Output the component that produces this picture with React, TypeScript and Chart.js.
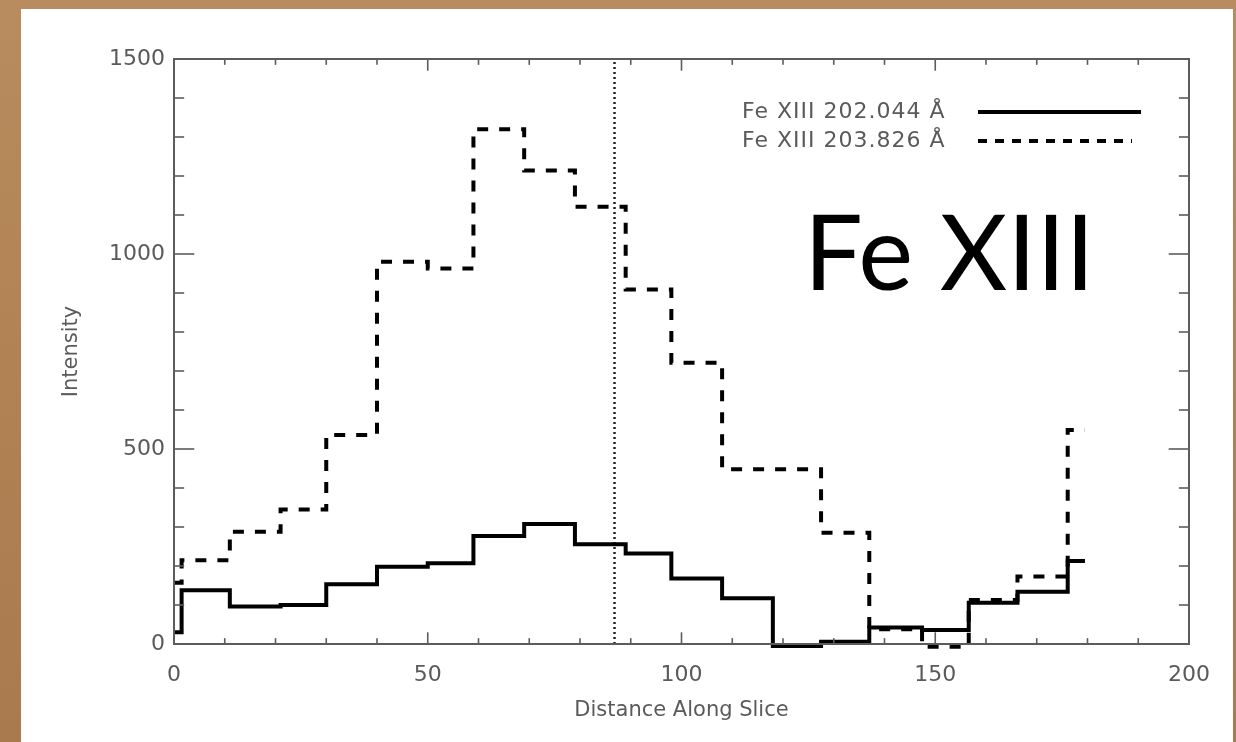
import React, { useEffect, useRef } from "react";
import { Chart, registerables } from "chart.js";

Chart.register(...registerables);

// ---- data ----
const binEdges = [0, 1.5, 11, 21, 30, 40, 50, 59, 69, 79, 89, 98, 108, 118, 127.5, 137, 147.4, 156.6, 166.2, 176.1, 179.5];
const fe202Values = [30, 138, 96, 100, 153, 198, 207, 277, 308, 256, 232, 168, 117, -5, 6, 42, 36, 106, 134, 213];
const fe203Values = [157, 215, 288, 345, 536, 980, 963, 1320, 1214, 1121, 909, 721, 448, 448, 285, 38, -7, 113, 173, 549];
const seriesLabels = ["Fe XIII 202.044 \u00C5", "Fe XIII 203.826 \u00C5"];
const xTickValues = [0, 50, 100, 150, 200];
const yTickValues = [0, 500, 1000, 1500];
const xMinorStep = 10;
const yMinorStep = 100;
const markerX = 86.8;
const xTitle = "Distance Along Slice";
const yTitle = "Intensity";
const bigLabel = "Fe XIII";

const AXIS = "#5c5c5c";
const TEXT = "#5a5a5a";
const TICK_FONT = { family: "'DejaVu Sans', sans-serif", size: 22 };

function toSteps(vals: number[]) {
  const pts = vals.map((v, i) => ({ x: binEdges[i], y: v }));
  pts.push({ x: binEdges[binEdges.length - 1], y: vals[vals.length - 1] });
  return pts;
}

export default function App() {
  const ref = useRef<HTMLCanvasElement>(null);

  useEffect(() => {
    const canvas = ref.current!;

    const framePlugin = {
      id: "idlFrame",
      afterDatasetsDraw(chart: any) {
        const { ctx, chartArea: a, scales } = chart;
        const xs = scales.x, ys = scales.y;
        const w = a.right - a.left, h = a.bottom - a.top;
        ctx.save();
        ctx.strokeStyle = AXIS;
        ctx.lineWidth = 2;
        ctx.strokeRect(a.left, a.top, w, h);
        ctx.lineWidth = 1.6;
        const seg = (x1: number, y1: number, x2: number, y2: number) => {
          ctx.beginPath(); ctx.moveTo(x1, y1); ctx.lineTo(x2, y2); ctx.stroke();
        };
        const nx = Math.round((xs.max - xs.min) / xMinorStep);
        for (let i = 0; i <= nx; i++) {
          const v = xs.min + i * xMinorStep;
          const px = xs.getPixelForValue(v);
          const major = xTickValues.includes(v);
          const len = major ? 0.02 * h : 0.01 * h;
          seg(px, a.bottom, px, a.bottom - len);
          seg(px, a.top, px, a.top + len);
        }
        const ny = Math.round((ys.max - ys.min) / yMinorStep);
        for (let i = 0; i <= ny; i++) {
          const v = ys.min + i * yMinorStep;
          const py = ys.getPixelForValue(v);
          const major = yTickValues.includes(v);
          const len = major ? 0.02 * w : 0.01 * w;
          seg(a.left, py, a.left + len, py);
          seg(a.right, py, a.right - len, py);
        }
        ctx.restore();
      },
      afterDraw(chart: any) {
        const { ctx, chartArea: a } = chart;
        ctx.save();
        // legend
        ctx.font = "22px 'DejaVu Sans', sans-serif";
        (ctx as any).letterSpacing = "1px";
        ctx.fillStyle = TEXT;
        ctx.textBaseline = "middle";
        ctx.textAlign = "left";
        const lx = a.left + 568;
        const rows = [a.top + 53, a.top + 82];
        seriesLabels.forEach((t, i) => {
          ctx.fillText(t, lx, rows[i]);
        });
        ctx.strokeStyle = "#000";
        ctx.lineWidth = 4;
        ctx.beginPath(); ctx.moveTo(a.left + 804, rows[0]); ctx.lineTo(a.left + 967, rows[0]); ctx.stroke();
        ctx.setLineDash([9, 8]);
        ctx.beginPath(); ctx.moveTo(a.left + 804, rows[1]); ctx.lineTo(a.left + 958, rows[1]); ctx.stroke();
        ctx.setLineDash([]);
        // big label
        (ctx as any).letterSpacing = "0px";
        ctx.fillStyle = "#000";
        ctx.font = "104px Lato, 'Open Sans', sans-serif";
        ctx.textBaseline = "alphabetic";
        ctx.fillText(bigLabel, a.left + 630, a.top + 231);
        ctx.restore();
      },
    };

    const chart = new Chart(canvas, {
      type: "line",
      data: {
        datasets: [
          {
            label: seriesLabels[0],
            data: toSteps(fe202Values),
            stepped: "before",
            borderColor: "#000",
            borderWidth: 4,
            pointRadius: 0,
            fill: false,
            clip: false as any,
          },
          {
            label: seriesLabels[1],
            data: toSteps(fe203Values),
            stepped: "before",
            borderColor: "#000",
            borderWidth: 4,
            borderDash: [11, 11],
            pointRadius: 0,
            fill: false,
            clip: false as any,
          },
          {
            label: "marker",
            data: [
              { x: markerX, y: 0 },
              { x: markerX, y: 1500 },
            ],
            borderColor: "#222",
            borderWidth: 2.5,
            borderDash: [2, 3],
            pointRadius: 0,
            fill: false,
          },
        ],
      },
      options: {
        responsive: false,
        animation: false,
        devicePixelRatio: 1,
        layout: { padding: { top: 59, right: 47, left: 0, bottom: 0 } },
        plugins: { legend: { display: false }, tooltip: { enabled: false } },
        scales: {
          x: {
            type: "linear",
            min: 0,
            max: 200,
            afterFit: (s: any) => { s.height = 98; },
            afterBuildTicks: (s: any) => { s.ticks = xTickValues.map((v) => ({ value: v })); },
            grid: { display: false, drawTicks: false },
            border: { display: false },
            ticks: { color: TEXT, font: TICK_FONT, padding: 18, maxRotation: 0, callback: (v: any) => String(v) },
            title: {
              display: true,
              text: xTitle,
              color: TEXT,
              font: { family: "'DejaVu Sans', sans-serif", size: 21 },
              padding: { top: 0, bottom: 19 },
            },
          },
          y: {
            type: "linear",
            min: 0,
            max: 1500,
            afterFit: (s: any) => { s.width = 174; },
            afterBuildTicks: (s: any) => { s.ticks = yTickValues.map((v) => ({ value: v })); },
            grid: { display: false, drawTicks: false },
            border: { display: false },
            ticks: { color: TEXT, font: TICK_FONT, padding: 9, callback: (v: any) => String(v) },
            title: {
              display: true,
              text: yTitle,
              color: TEXT,
              font: { family: "'DejaVu Sans', sans-serif", size: 21 },
              padding: { top: 59, bottom: 0 },
            },
          },
        },
      },
      plugins: [framePlugin],
    } as any);

    return () => chart.destroy();
  }, []);

  return (
    <div
      style={{
        position: "fixed",
        left: 0,
        top: 0,
        width: 1236,
        height: 742,
        background: "linear-gradient(180deg, #b98c5f 0%, #b08254 50%, #a87a4e 100%)",
        overflow: "hidden",
      }}
    >
      <div
        style={{
          position: "absolute",
          left: 21,
          top: 9,
          width: 1212,
          height: 733,
          background: "#fff",
        }}
      />
      <canvas
        ref={ref}
        width={1236}
        height={742}
        style={{ position: "absolute", left: 0, top: 0, display: "block" }}
      />
    </div>
  );
}
